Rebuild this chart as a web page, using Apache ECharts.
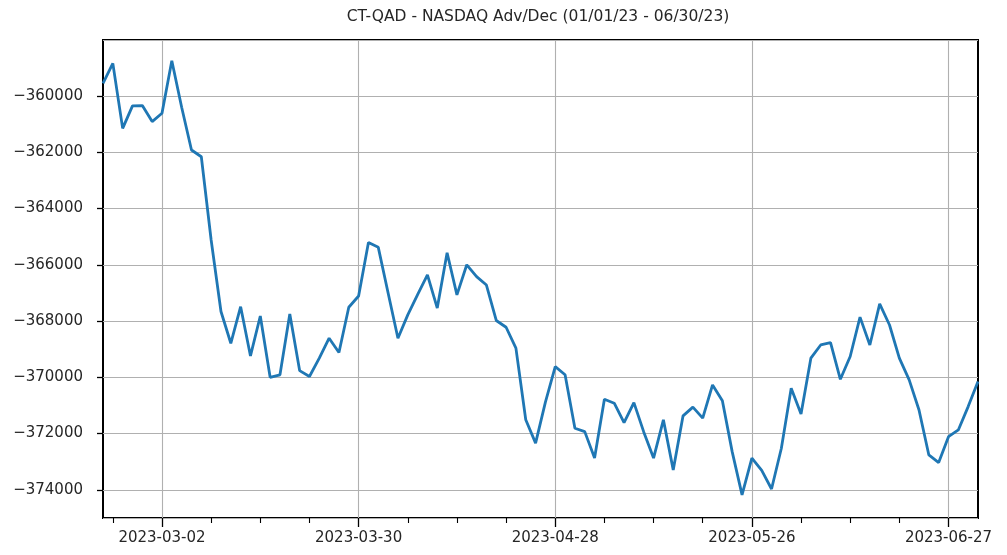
<!DOCTYPE html>
<html>
<head>
<meta charset="utf-8">
<title>CT-QAD - NASDAQ Adv/Dec</title>
<script src="https://cdn.jsdelivr.net/npm/echarts@6/dist/echarts.min.js"></script>
<style>
  html, body { margin: 0; padding: 0; background: #fff; }
  #chart { width: 1007px; height: 555px; }
</style>
</head>
<body>
<div id="chart"></div>
<script>
// Trading days shown on the x axis
const dates = [
  '2023-02-22','2023-02-23','2023-02-24','2023-02-27','2023-02-28',
  '2023-03-01','2023-03-02','2023-03-03','2023-03-06','2023-03-07','2023-03-08','2023-03-09','2023-03-10',
  '2023-03-13','2023-03-14','2023-03-15','2023-03-16','2023-03-17','2023-03-20','2023-03-21','2023-03-22',
  '2023-03-23','2023-03-24','2023-03-27','2023-03-28','2023-03-29','2023-03-30','2023-03-31',
  '2023-04-03','2023-04-04','2023-04-05','2023-04-06','2023-04-10','2023-04-11','2023-04-12','2023-04-13',
  '2023-04-14','2023-04-17','2023-04-18','2023-04-19','2023-04-20','2023-04-21','2023-04-24','2023-04-25',
  '2023-04-26','2023-04-27','2023-04-28',
  '2023-05-01','2023-05-02','2023-05-03','2023-05-04','2023-05-05','2023-05-08','2023-05-09','2023-05-10',
  '2023-05-11','2023-05-12','2023-05-15','2023-05-16','2023-05-17','2023-05-18','2023-05-19','2023-05-22',
  '2023-05-23','2023-05-24','2023-05-25','2023-05-26','2023-05-30','2023-05-31',
  '2023-06-01','2023-06-02','2023-06-05','2023-06-06','2023-06-07','2023-06-08','2023-06-09','2023-06-12',
  '2023-06-13','2023-06-14','2023-06-15','2023-06-16','2023-06-20','2023-06-21','2023-06-22','2023-06-23',
  '2023-06-26','2023-06-27','2023-06-28','2023-06-29','2023-06-30'
];

// Cumulative advance/decline line
const adLine = [
  -359550, -358840, -361150, -360350, -360340, -360910, -360615, -358750, -360400, -361920,
  -362160, -365120, -367660, -368790, -367490, -369240, -367820, -370000, -369910, -367750,
  -369760, -369970, -369320, -368610, -369120, -367510, -367110, -365210, -365380, -367000,
  -368610, -367780, -367060, -366360, -367540, -365570, -367070, -366000, -366420, -366720,
  -367980, -368220, -368960, -371510, -372340, -370880, -369620, -369910, -371810, -371930,
  -372870, -370780, -370920, -371610, -370900, -371940, -372870, -371510, -373290, -371370,
  -371060, -371450, -370270, -370830, -372650, -374180, -372870, -373310, -373970, -372520,
  -370390, -371300, -369320, -368850, -368770, -370070, -369260, -367860, -368850, -367390,
  -368140, -369320, -370090, -371160, -372760, -373030, -372110, -371870, -371040, -370150
];

// Labelled dates on the x axis (every 20 sessions)
const xTickLabels = ['2023-03-02', '2023-03-30', '2023-04-28', '2023-05-26', '2023-06-27'];

// y axis range and step
const yMin = -375000;
const yMax = -358010;
const yStep = 2000;

const firstMajor = dates.indexOf(xTickLabels[0]);
const isMajor = (i) => xTickLabels.indexOf(dates[i]) !== -1;
const isMinor = (i) => !isMajor(i) && ((i - firstMajor) % 5 + 5) % 5 === 0;

const FONT = 'DejaVu Sans';
const TEXT = '#262626';

const chart = echarts.init(document.getElementById('chart'), null, { renderer: 'canvas' });

chart.setOption({
  animation: false,
  backgroundColor: '#ffffff',
  graphic: [{
    type: 'text',
    x: 538,
    y: 17,
    style: {
      text: 'CT-QAD - NASDAQ Adv/Dec (01/01/23 - 06/30/23)',
      font: '15.5px "DejaVu Sans"',
      fill: TEXT,
      align: 'center',
      verticalAlign: 'middle'
    }
  }],
  grid: {
    left: 103, right: 29, top: 40, bottom: 37,
    show: true,
    borderColor: '#000',
    borderWidth: 2,
    backgroundColor: 'transparent'
  },
  xAxis: [{
    type: 'category',
    data: dates,
    boundaryGap: false,
    axisLine: { show: false },
    axisTick: {
      show: true,
      length: 9,
      interval: (i) => isMajor(i),
      lineStyle: { color: '#000', width: 1.3 }
    },
    axisLabel: {
      interval: (i) => isMajor(i),
      margin: 13,
      color: TEXT,
      fontFamily: FONT,
      fontSize: 15
    },
    splitLine: {
      show: true,
      interval: (i) => isMajor(i),
      lineStyle: { color: '#b0b0b0', width: 1.1 }
    }
  }, {
    // minor ticks every 5 sessions
    type: 'category',
    data: dates,
    position: 'bottom',
    boundaryGap: false,
    axisLine: { show: false },
    axisTick: {
      show: true,
      length: 5,
      interval: (i) => isMinor(i),
      lineStyle: { color: '#000', width: 1.1 }
    },
    axisLabel: { show: false },
    splitLine: { show: false }
  }],
  yAxis: {
    type: 'value',
    min: yMin,
    max: yMax,
    minInterval: yStep,
    maxInterval: yStep,
    axisLine: { show: false },
    axisTick: { show: true, length: 6, lineStyle: { color: '#000', width: 1.3 } },
    axisLabel: {
      showMinLabel: false,
      showMaxLabel: false,
      margin: 20,
      color: TEXT,
      fontFamily: FONT,
      fontSize: 15,
      formatter: (v) => (v < 0 ? '\u2212' + Math.abs(v) : String(v))
    },
    splitLine: { show: true, lineStyle: { color: '#b0b0b0', width: 1.1 } }
  },
  series: [{
    type: 'line',
    data: adLine,
    xAxisIndex: 0,
    yAxisIndex: 0,
    showSymbol: false,
    symbol: 'none',
    lineStyle: { color: '#1f77b4', width: 2.8 },
    clip: true
  }]
});
</script>
</body>
</html>
